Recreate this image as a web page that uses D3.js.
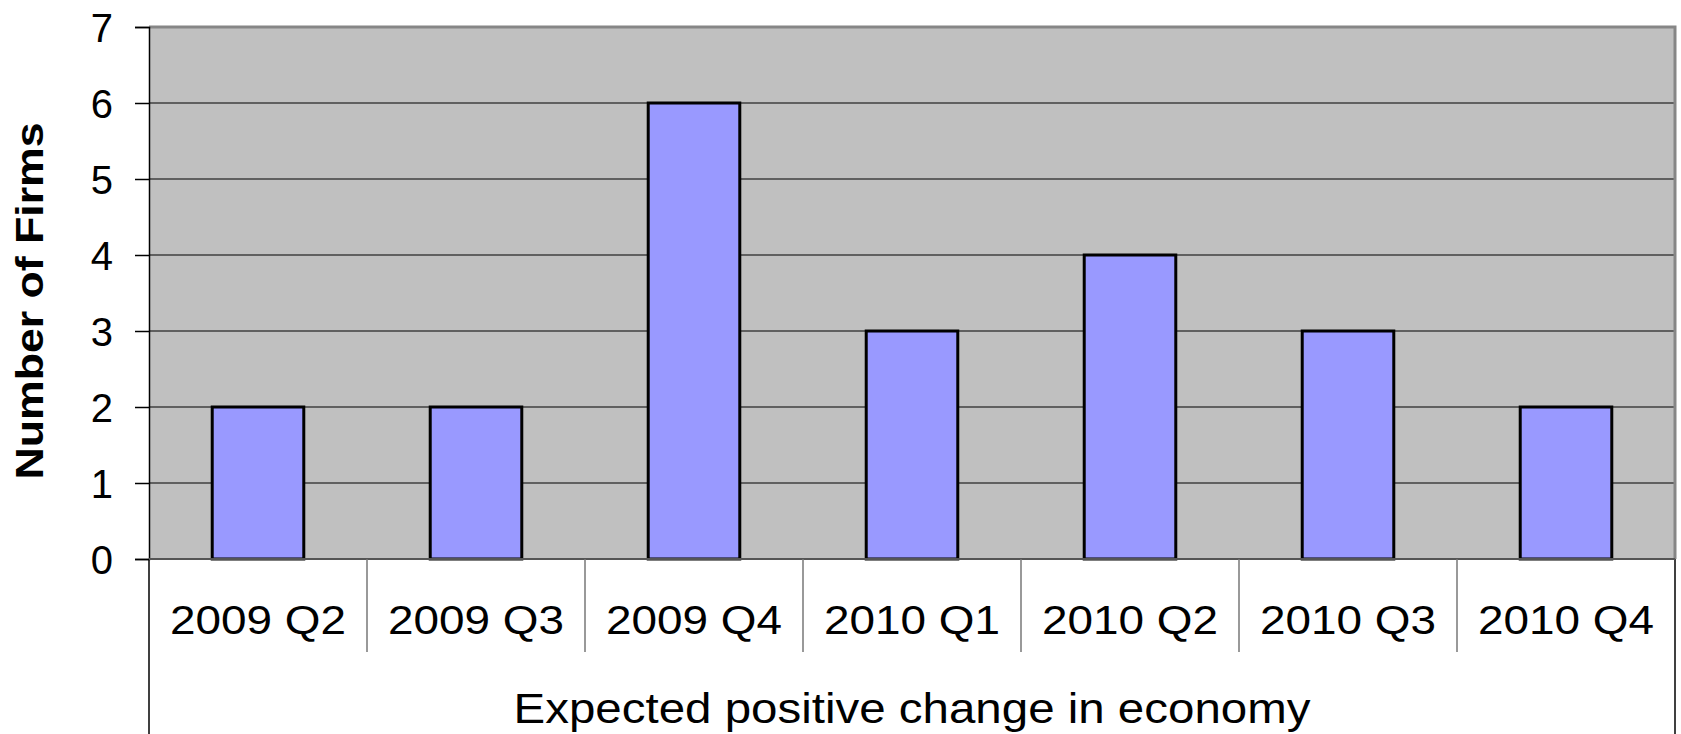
<!DOCTYPE html>
<html>
<head>
<meta charset="utf-8">
<script src="https://cdn.jsdelivr.net/npm/d3@7/dist/d3.min.js"></script>
<style>
  html, body { margin: 0; padding: 0; background: #ffffff; }
  svg { display: block; }
  text { font-family: "Liberation Sans", Arial, Helvetica, sans-serif; fill: #000; }
</style>
</head>
<body>
<svg id="chart" width="1681" height="734"></svg>
<script>
// data
var quarters = ["2009 Q2", "2009 Q3", "2009 Q4", "2010 Q1", "2010 Q2", "2010 Q3", "2010 Q4"];
var firmCounts = [2, 2, 6, 3, 4, 3, 2];
var yTicks = [0, 1, 2, 3, 4, 5, 6, 7];
var yTitle = "Number of Firms";
var xTitle = "Expected positive change in economy";

var svg = d3.select("#chart"),
    width = 1681,
    height = 734,
    plot = { left: 149, right: 1675, top: 27, bottom: 559 };

var x = d3.scaleBand()
    .domain(quarters)
    .range([plot.left, plot.right])
    .paddingInner(0.58)
    .paddingOuter(0.29);

var xCat = d3.scaleBand()
    .domain(quarters)
    .range([plot.left, plot.right])
    .padding(0);

var y = d3.scaleLinear()
    .domain([0, 7])
    .range([plot.bottom, plot.top]);

// plot background
svg.append("rect")
    .attr("x", plot.left)
    .attr("y", plot.top)
    .attr("width", plot.right - plot.left)
    .attr("height", plot.bottom - plot.top)
    .attr("fill", "#c0c0c0");

// gridlines
svg.append("g")
    .selectAll("line")
    .data(yTicks.filter(function (d) { return d > 0 && d < 7; }))
    .enter().append("line")
    .attr("x1", plot.left)
    .attr("x2", plot.right)
    .attr("y1", function (d) { return y(d); })
    .attr("y2", function (d) { return y(d); })
    .attr("stroke", "#606060")
    .attr("stroke-width", 2);

// plot border (top/right)
svg.append("path")
    .attr("d", "M" + plot.left + "," + plot.top + "H" + plot.right + "V" + plot.bottom)
    .attr("fill", "none")
    .attr("stroke", "#868686")
    .attr("stroke-width", 3);

// bars
svg.append("g")
    .selectAll("rect")
    .data(quarters)
    .enter().append("rect")
    .attr("x", function (d) { return x(d); })
    .attr("y", function (d, i) { return y(firmCounts[i]); })
    .attr("width", x.bandwidth())
    .attr("height", function (d, i) { return y(0) - y(firmCounts[i]); })
    .attr("fill", "#9999ff")
    .attr("stroke", "#000")
    .attr("stroke-width", 3);

// y axis
var yAxis = svg.append("g")
    .attr("transform", "translate(" + plot.left + ",0)")
    .call(d3.axisLeft(y).tickValues(yTicks).tickSize(14).tickPadding(22).tickFormat(d3.format("d")));
yAxis.select(".domain").attr("stroke", "#000").attr("stroke-width", 1.5);
yAxis.selectAll(".tick line").attr("stroke", "#000").attr("stroke-width", 1.5);
yAxis.selectAll(".tick text")
    .attr("font-size", 40)
    .attr("font-family", "'Liberation Sans', Arial, sans-serif")
    .attr("dy", "0.36em")
    .attr("fill", "#000");

// left axis continues below plot, and right border below plot
svg.append("line")
    .attr("x1", plot.left).attr("x2", plot.left)
    .attr("y1", plot.bottom).attr("y2", height)
    .attr("stroke", "#000").attr("stroke-width", 1.5);
svg.append("line")
    .attr("x1", plot.right).attr("x2", plot.right)
    .attr("y1", plot.bottom).attr("y2", height)
    .attr("stroke", "#000").attr("stroke-width", 1.5);

// baseline
svg.append("line")
    .attr("x1", plot.left).attr("x2", plot.right)
    .attr("y1", y(0)).attr("y2", y(0))
    .attr("stroke", "#555").attr("stroke-width", 2);

// category separators
svg.append("g")
    .selectAll("line")
    .data(quarters.slice(1))
    .enter().append("line")
    .attr("x1", function (d) { return xCat(d); })
    .attr("x2", function (d) { return xCat(d); })
    .attr("y1", plot.bottom)
    .attr("y2", 652)
    .attr("stroke", "#777")
    .attr("stroke-width", 1.5);

// category labels
svg.append("g")
    .selectAll("text")
    .data(quarters)
    .enter().append("text")
    .attr("x", function (d) { return xCat(d) + xCat.bandwidth() / 2; })
    .attr("y", 634)
    .attr("text-anchor", "middle")
    .attr("font-size", 40)
    .attr("textLength", 176)
    .attr("lengthAdjust", "spacingAndGlyphs")
    .text(function (d) { return d; });

// x title
svg.append("text")
    .attr("x", (plot.left + plot.right) / 2)
    .attr("y", 723)
    .attr("text-anchor", "middle")
    .attr("font-size", 42)
    .attr("textLength", 797)
    .attr("lengthAdjust", "spacingAndGlyphs")
    .text(xTitle);

// y title
svg.append("text")
    .attr("transform", "translate(43," + 301 + ") rotate(-90)")
    .attr("text-anchor", "middle")
    .attr("font-size", 39)
    .attr("font-weight", "bold")
    .attr("textLength", 357)
    .attr("lengthAdjust", "spacingAndGlyphs")
    .text(yTitle);
</script>
</body>
</html>
